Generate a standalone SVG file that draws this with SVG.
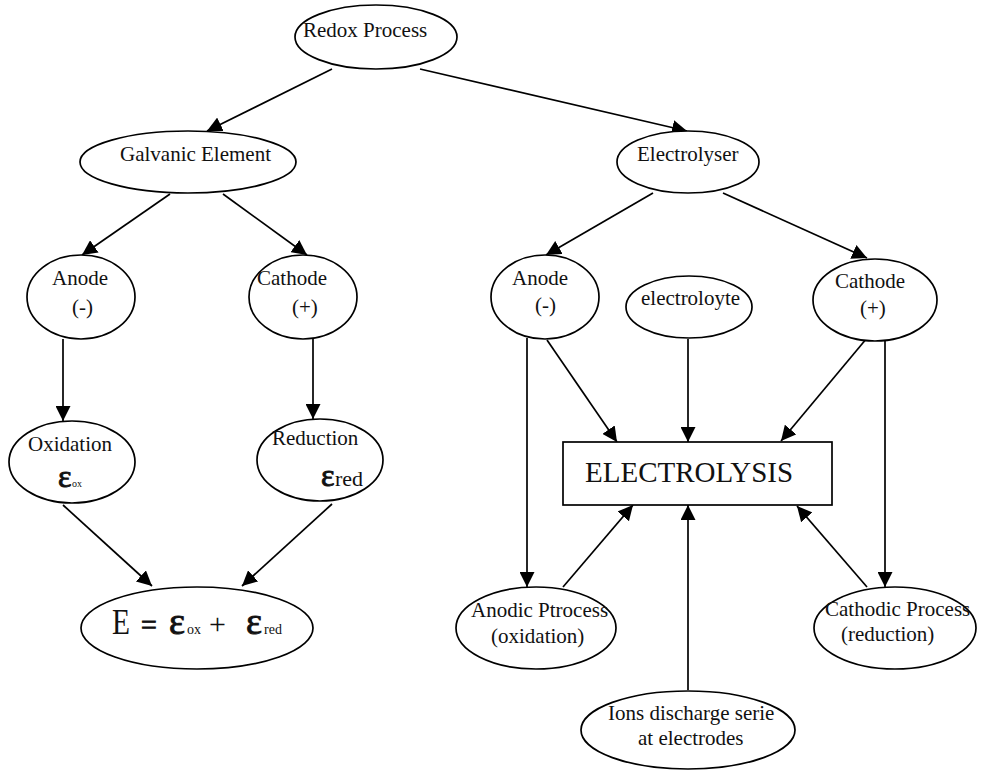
<svg xmlns="http://www.w3.org/2000/svg" width="994" height="772" viewBox="0 0 994 772">
  <style>
    .node { fill: #ffffff; stroke: #000000; stroke-width: 1.7; }
    .lbl { font-family: "Liberation Serif", "Times New Roman", serif; font-size: 21px; fill: #111111; }
    .big { font-size: 29px; }
    .eps { font-family: "Liberation Serif", "Times New Roman", serif; fill: #111111; }
    .sym { stroke: #111111; stroke-width: 0.9; }
    .edge { stroke: #000000; stroke-width: 1.7; fill: none; marker-end: url(#arrow); }
  </style>
  <defs>
    <marker id="arrow" markerUnits="userSpaceOnUse" markerWidth="16" markerHeight="15" refX="15" refY="7.5" orient="auto">
      <path d="M0,0 L15,7.5 L0,15 z" fill="#000000"/>
    </marker>
  </defs>
  <rect width="994" height="772" fill="#ffffff"/>

  <g id="connectors">
    <line class="edge" x1="332" y1="69" x2="207" y2="131"/>
    <line class="edge" x1="420" y1="69" x2="687" y2="131"/>
    <line class="edge" x1="170" y1="194" x2="82" y2="255"/>
    <line class="edge" x1="223" y1="194" x2="307" y2="255"/>
    <line class="edge" x1="63" y1="339" x2="63" y2="421"/>
    <line class="edge" x1="313" y1="339" x2="313" y2="419"/>
    <line class="edge" x1="63" y1="505" x2="152" y2="586"/>
    <line class="edge" x1="332" y1="504" x2="242" y2="586"/>
    <line class="edge" x1="653" y1="193" x2="546" y2="255"/>
    <line class="edge" x1="723" y1="193" x2="867" y2="258"/>
    <line class="edge" x1="547" y1="340" x2="617" y2="442"/>
    <line class="edge" x1="688" y1="339" x2="688" y2="442"/>
    <line class="edge" x1="867" y1="338" x2="781" y2="441"/>
    <line class="edge" x1="527" y1="338" x2="527" y2="587"/>
    <line class="edge" x1="885" y1="338" x2="885" y2="587"/>
    <line class="edge" x1="563" y1="587" x2="633" y2="505"/>
    <line class="edge" x1="688" y1="690" x2="688" y2="505"/>
    <line class="edge" x1="867" y1="587" x2="797" y2="506"/>
  </g>

  <g id="redox">
    <ellipse class="node" cx="376" cy="37" rx="81" ry="32"/>
    <text class="lbl" x="303" y="37">Redox Process</text>
  </g>

  <g id="galvanic">
    <ellipse class="node" cx="188" cy="162" rx="108" ry="31"/>
    <text class="lbl" x="120" y="161">Galvanic Element</text>
  </g>

  <g id="electrolyser">
    <ellipse class="node" cx="688" cy="162" rx="71" ry="31"/>
    <text class="lbl" x="637" y="161">Electrolyser</text>
  </g>

  <g id="g-anode">
    <ellipse class="node" cx="81" cy="297" rx="54" ry="42"/>
    <text class="lbl" x="52" y="285">Anode</text>
    <text class="lbl" x="72" y="314">(-)</text>
  </g>

  <g id="g-cathode">
    <ellipse class="node" cx="303" cy="297" rx="54" ry="42"/>
    <text class="lbl" x="257" y="285">Cathode</text>
    <text class="lbl" x="292" y="314">(+)</text>
  </g>

  <g id="oxidation">
    <ellipse class="node" cx="72" cy="462" rx="63" ry="41"/>
    <text class="lbl" x="28" y="451">Oxidation</text>
    <text class="eps sym" x="58" y="487" font-size="32">ε</text>
    <text class="eps" x="72" y="487" font-size="10">ox</text>
  </g>

  <g id="reduction">
    <ellipse class="node" cx="320" cy="460" rx="63" ry="41"/>
    <text class="lbl" x="272" y="445">Reduction</text>
    <text class="eps sym" x="321" y="486" font-size="32">ε</text>
    <text class="eps" x="335" y="486" font-size="22">red</text>
  </g>

  <g id="potential">
    <ellipse class="node" cx="197" cy="628" rx="116" ry="41"/>
    <text class="eps" x="112" y="634" font-size="36" textLength="18" lengthAdjust="spacingAndGlyphs">E</text>
    <text class="eps sym" x="141" y="634" font-size="28">=</text>
    <text class="eps sym" x="169" y="634" font-size="38">ε</text>
    <text class="eps" x="187" y="634" font-size="14">ox</text>
    <text class="eps" x="209" y="634" font-size="30">+</text>
    <text class="eps sym" x="246" y="634" font-size="38">ε</text>
    <text class="eps" x="264" y="634" font-size="14">red</text>
  </g>

  <g id="e-anode">
    <ellipse class="node" cx="545" cy="297" rx="54" ry="42"/>
    <text class="lbl" x="512" y="285">Anode</text>
    <text class="lbl" x="535" y="312">(-)</text>
  </g>

  <g id="electrolyte">
    <ellipse class="node" cx="689" cy="307" rx="63" ry="31"/>
    <text class="lbl" x="641" y="305">electroloyte</text>
  </g>

  <g id="e-cathode">
    <ellipse class="node" cx="875" cy="300" rx="62" ry="41"/>
    <text class="lbl" x="835" y="288">Cathode</text>
    <text class="lbl" x="860" y="315">(+)</text>
  </g>

  <g id="electrolysis">
    <rect class="node" x="563" y="442" width="269" height="63"/>
    <text class="lbl big" x="585" y="482">ELECTROLYSIS</text>
  </g>

  <g id="anodic">
    <ellipse class="node" cx="536" cy="628" rx="80" ry="41"/>
    <text class="lbl" x="471" y="617">Anodic Ptrocess</text>
    <text class="lbl" x="491" y="643">(oxidation)</text>
  </g>

  <g id="cathodic">
    <ellipse class="node" cx="895" cy="628" rx="81" ry="41"/>
    <text class="lbl" x="825" y="616">Cathodic Process</text>
    <text class="lbl" x="841" y="641">(reduction)</text>
  </g>

  <g id="ions">
    <ellipse class="node" cx="688" cy="730" rx="107" ry="39"/>
    <text class="lbl" x="608" y="720">Ions discharge serie</text>
    <text class="lbl" x="638" y="745">at electrodes</text>
  </g>
</svg>
